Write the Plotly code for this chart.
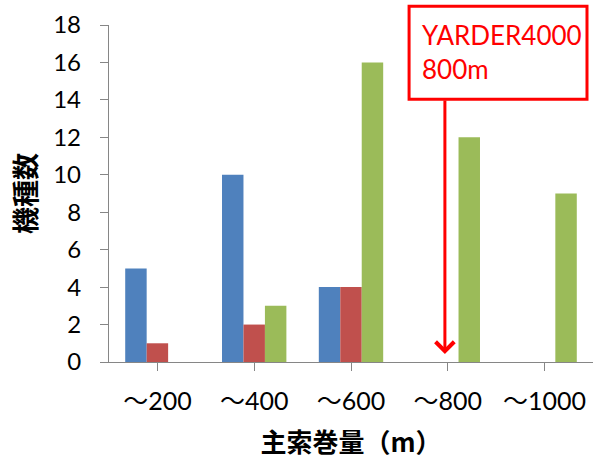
import plotly.graph_objects as go

# Wire-length classes (m) and counts of yarder models per class
categories = ["～200", "～400", "～600", "～800", "～1000"]
series_a = [5, 10, 4, 0, 0]
series_b = [1, 2, 4, 0, 0]
series_c = [0, 3, 16, 12, 9]
y_ticks = [0, 2, 4, 6, 8, 10, 12, 14, 16, 18]

callout_text = "YARDER4000<br>800m"
callout_category = 3  # position of "～800"

colors = ["#4F81BD", "#C0504D", "#9BBB59"]
axis_gray = "#868686"
font_main = "Lato, 'Noto Sans CJK JP', sans-serif"
font_cjk = "'Noto Sans CJK JP', sans-serif"

fig = go.Figure()
for vals, col in zip([series_a, series_b, series_c], colors):
    fig.add_trace(go.Bar(
        x=list(range(len(categories))), y=vals,
        marker=dict(color=col, line=dict(width=0)),
        showlegend=False,
    ))

fig.update_layout(
    width=596, height=460,
    margin=dict(l=109, r=3, t=25, b=98),
    paper_bgcolor="white", plot_bgcolor="white",
    barmode="group", bargap=0.335, bargroupgap=0,
    font=dict(family=font_main, size=24, color="black"),
)

fig.update_xaxes(
    tickmode="array", tickvals=list(range(len(categories))), ticktext=categories,
    range=[-0.5, len(categories) - 0.5],
    showline=True, linecolor=axis_gray, linewidth=1.3,
    ticks="outside", ticklen=8, tickcolor=axis_gray, tickwidth=1.3,
    tickson="boundaries",
    showgrid=False, zeroline=False,
    tickfont=dict(family=font_main, size=25),
    ticklabelstandoff=9,
    title=dict(text="<b>主索巻量（m）</b>", font=dict(family=font_cjk, size=26), standoff=19),
)
fig.update_yaxes(
    range=[0, 18], tickvals=y_ticks,
    showline=True, linecolor=axis_gray, linewidth=1.3,
    ticks="outside", ticklen=8, tickcolor=axis_gray, tickwidth=1.3,
    showgrid=False, zeroline=False,
    tickfont=dict(family=font_main, size=24),
    ticklabelstandoff=14,
    title=dict(text="<b>機種数</b>", font=dict(family=font_cjk, size=27), standoff=8),
)

# Callout box with label
fig.add_shape(
    type="rect", xref="paper", yref="paper",
    x0=0.62, x1=0.9876, y0=0.780, y1=1.056,
    line=dict(color="#FF0000", width=3), fillcolor="white", layer="above",
)
fig.add_annotation(
    xref="paper", yref="paper", x=0.643, y=1.025,
    xanchor="left", yanchor="top", align="left",
    text=callout_text, showarrow=False,
    font=dict(family=font_main, size=26, color="#FF0000"),
)

# Arrow from the callout down to the ～800 class
fig.add_annotation(
    x=callout_category - 0.03, y=0, xref="x", yref="y",
    ax=callout_category - 0.03, ay=14.05, axref="x", ayref="y",
    text="", showarrow=True,
    arrowhead=4, arrowsize=1.2, arrowwidth=3, arrowcolor="#FF0000",
    standoff=8,
)

fig.write_html("out.html")
